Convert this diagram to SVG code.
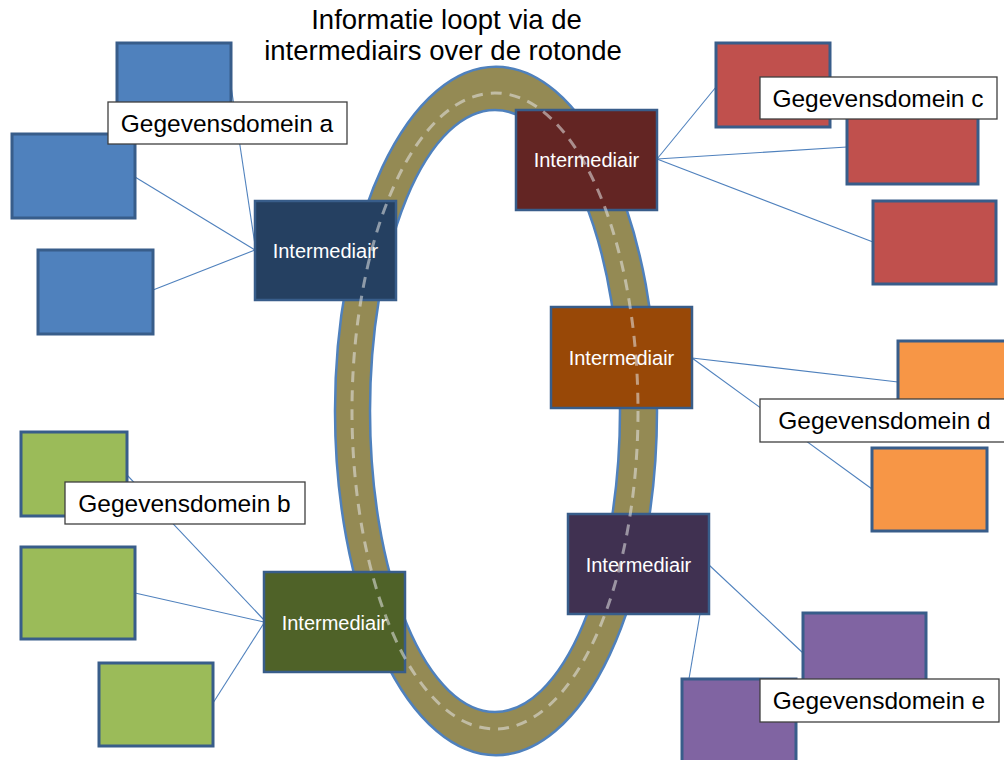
<svg xmlns="http://www.w3.org/2000/svg" width="1004" height="760" viewBox="0 0 1004 760">
<style>
.title{font-family:"Liberation Sans",Arial,sans-serif;font-size:27.5px;fill:#000;text-anchor:middle}
.lbl{font-family:"Liberation Sans",Arial,sans-serif;font-size:24.5px;fill:#000;text-anchor:middle}
.im{font-family:"Liberation Sans",Arial,sans-serif;font-size:20px;fill:#fff;text-anchor:middle}
.lblbox{fill:#fff;stroke:#3f3f3f;stroke-width:1.3}
.box{stroke:#385d8a;stroke-width:3}
.ibox{stroke:#385d8a;stroke-width:2.5}
.conn line{stroke:#4f81bd;stroke-width:1.1}
.blue{fill:#4f81bd}.red{fill:#c0504d}.orange{fill:#f79646}.green{fill:#9bbb59}.purple{fill:#8064a2}
</style>
<rect width="1004" height="760" fill="#fff"/>
<g id="title">
<text class="title" x="446.5" y="29">Informatie loopt via de</text>
<text class="title" x="443" y="60">intermediairs over de rotonde</text>
</g>
<g id="rotonde">
<path fill="#948a54" fill-rule="evenodd" stroke="#4f81bd" stroke-width="2.5" d="M335,411 a161,344 0 1,0 322,0 a161,344 0 1,0 -322,0 Z M370,411 a125,301 0 1,0 250,0 a125,301 0 1,0 -250,0 Z"/>
</g>
<g id="connectors" class="conn">
<line x1="231" y1="86" x2="255" y2="245"/>
<line x1="135" y1="177" x2="255" y2="250"/>
<line x1="153" y1="290" x2="255" y2="250"/>
<line x1="127" y1="475" x2="264" y2="620"/>
<line x1="135" y1="593" x2="264" y2="622"/>
<line x1="213" y1="703" x2="264" y2="623"/>
<line x1="657" y1="159" x2="716" y2="87"/>
<line x1="657" y1="159" x2="847" y2="147"/>
<line x1="657" y1="159" x2="873" y2="242"/>
<line x1="692" y1="358" x2="898" y2="382"/>
<line x1="692" y1="358" x2="872" y2="489"/>
<line x1="709" y1="565" x2="803" y2="653"/>
<line x1="700" y1="614" x2="682" y2="720"/>
</g>
<g id="domein-a">
<rect class="box blue" x="117" y="43" width="114" height="83"/>
<rect class="box blue" x="12" y="134" width="123" height="84"/>
<rect class="box blue" x="38" y="250" width="115" height="84"/>
</g>
<g id="domein-b">
<rect class="box green" x="21" y="432" width="106" height="84"/>
<rect class="box green" x="21" y="547" width="114" height="92"/>
<rect class="box green" x="99" y="663" width="114" height="83"/>
</g>
<g id="domein-c">
<rect class="box red" x="716" y="43" width="114" height="84"/>
<rect class="box red" x="847" y="100" width="131" height="84"/>
<rect class="box red" x="873" y="201" width="123" height="83"/>
</g>
<g id="domein-d">
<rect class="box orange" x="898" y="341" width="120" height="84"/>
<rect class="box orange" x="872" y="448" width="115" height="83"/>
</g>
<g id="domein-e">
<rect class="box purple" x="803" y="613" width="123" height="86"/>
<rect class="box purple" x="682" y="679" width="114" height="90"/>
</g>
<g id="intermediair-a">
<rect class="ibox" fill="#254061" x="255" y="201" width="141" height="99"/>
<text class="im" x="325.5" y="258">Intermediair</text>
</g>
<g id="intermediair-b">
<rect class="ibox" fill="#4f6228" x="264" y="572" width="141" height="100"/>
<text class="im" x="334.5" y="630">Intermediair</text>
</g>
<g id="intermediair-c">
<rect class="ibox" fill="#632523" x="516" y="110" width="141" height="100"/>
<text class="im" x="586.5" y="167">Intermediair</text>
</g>
<g id="intermediair-d">
<rect class="ibox" fill="#984807" x="551" y="307" width="141" height="101"/>
<text class="im" x="621.5" y="365">Intermediair</text>
</g>
<g id="intermediair-e">
<rect class="ibox" fill="#403151" x="568" y="514" width="141" height="100"/>
<text class="im" x="638.5" y="572">Intermediair</text>
</g>
<g id="rijstrook">
<ellipse cx="495" cy="411" rx="143" ry="318" fill="none" stroke="#e6e6e6" stroke-opacity="0.55" stroke-width="3" stroke-dasharray="11 8"/>
</g>
<g id="label-a">
<rect class="lblbox" x="108" y="102" width="239" height="42"/>
<text class="lbl" x="227" y="131.5">Gegevensdomein a</text>
</g>
<g id="label-b">
<rect class="lblbox" x="65" y="482" width="240" height="42"/>
<text class="lbl" x="184.5" y="512">Gegevensdomein b</text>
</g>
<g id="label-c">
<rect class="lblbox" x="760" y="77" width="237" height="42"/>
<text class="lbl" x="878" y="107">Gegevensdomein c</text>
</g>
<g id="label-d">
<rect class="lblbox" x="760" y="399" width="252" height="43"/>
<text class="lbl" x="884.5" y="428.5">Gegevensdomein d</text>
</g>
<g id="label-e">
<rect class="lblbox" x="760" y="679" width="239" height="43"/>
<text class="lbl" x="879" y="709">Gegevensdomein e</text>
</g>
</svg>
